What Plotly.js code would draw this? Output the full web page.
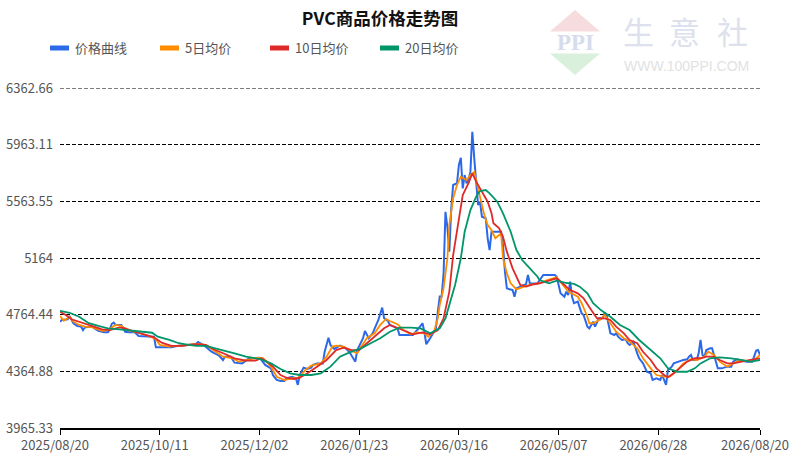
<!DOCTYPE html>
<html>
<head>
<meta charset="utf-8">
<script src="https://cdn.plot.ly/plotly-3.0.1.min.js"></script>
<style>
html,body{margin:0;padding:0;background:#fff;}
#chart{width:790px;height:458px;}
</style>
</head>
<body>
<div id="chart"></div>
<script>
// ---- data (day offsets from 2025-08-20) ----
const startDate = '2025-08-20';
const endDate = '2026-08-20';
const seriesNames = ['价格曲线', '5日均价', '10日均价', '20日均价'];
const seriesColors = ['#2b69e8', '#ff8c00', '#e02a2a', '#00966a'];

const xTickDates = ['2025-08-20','2025-10-11','2025-12-02','2026-01-23','2026-03-16','2026-05-07','2026-06-28','2026-08-20'];
const xTickLabels = ['2025/08/20','2025/10/11','2025/12/02','2026/01/23','2026/03/16','2026/05/07','2026/06/28','2026/08/20'];
const yTickVals = [3965.33, 4364.88, 4764.44, 5164, 5563.55, 5963.11, 6362.66];
const yTickLabels = ['3965.33','4364.88','4764.44','5164','5563.55','5963.11','6362.66'];

const priceDays = [0,1,4,5,7,9,11,12,13,17,18,20,23,25,26,27,28,29,32,34,36,39,41,45,49,50,53,58,61,67,71,72,73,76,79,83,85,86,89,91,95,98,99,102,104,105,107,110,111,113,115,117,118,121,123,124,125,127,129,131,132,134,137,138,140,141,143,146,149,151,154,155,157,158,159,161,163,164,166,168,169,171,172,174,176,177,184,187,189,190,191,193,196,197,198,199,200,201,202,203,204,205,207,208,209,210,211,212,213,214,215,216,217,218,219,220,222,223,224,225,230,231,232,233,234,236,237,238,240,243,244,245,249,251,252,258,259,260,261,263,264,265,266,267,268,270,271,272,273,275,276,278,279,281,283,284,285,286,287,289,290,291,293,295,296,297,299,301,302,304,306,308,309,311,313,314,315,316,317,319,320,322,324,325,327,328,329,330,332,333,334,335,336,337,339,340,341,342,343,345,348,350,351,353,355,358,361,362,363,364,365];
const priceVals = [4715,4727,4732,4755,4704,4685,4680,4656,4675,4680,4668,4651,4640,4640,4661,4699,4708,4692,4692,4644,4640,4640,4614,4609,4609,4534,4532,4534,4544,4551,4558,4572,4563,4539,4503,4475,4445,4468,4468,4426,4421,4450,4461,4457,4461,4445,4410,4386,4339,4304,4297,4297,4316,4327,4316,4269,4339,4391,4381,4391,4410,4421,4421,4503,4602,4551,4523,4546,4527,4499,4433,4515,4574,4598,4649,4598,4633,4668,4727,4814,4739,4720,4692,4680,4668,4621,4621,4668,4704,4644,4556,4598,4668,4785,4893,4893,5050,5490,5380,5209,5514,5679,5691,5820,5871,5655,5749,5691,5714,5773,6054,5867,5679,5538,5561,5455,5444,5303,5220,5349,5349,5255,5068,4950,4945,4938,4891,4950,4962,4980,5044,4985,4986,5021,5044,5044,5032,4974,4915,4891,4927,4903,4997,4891,4845,4856,4821,4774,4762,4680,4668,4715,4680,4739,4739,4778,4762,4704,4633,4621,4633,4609,4586,4591,4563,4551,4574,4492,4457,4421,4362,4351,4304,4316,4304,4339,4304,4269,4374,4398,4421,4433,4440,4445,4450,4468,4480,4445,4445,4492,4586,4480,4468,4515,4527,4527,4480,4445,4386,4386,4398,4398,4433,4450,4445,4433,4433,4468,4511,4515,4480];

const ma5Days = [0,2,5,7,10,13,17,22,25,29,32,35,39,45,50,52,57,64,71,76,81,85,90,93,98,103,106,110,113,117,121,124,128,131,136,139,142,144,148,151,155,157,160,164,167,170,172,176,179,183,186,190,192,195,197,198,200,202,203,205,207,209,212,214,216,217,219,221,223,225,227,230,231,233,235,238,242,245,250,254,259,262,265,270,272,275,276,278,282,284,287,290,294,297,301,304,308,311,315,318,322,325,329,332,336,338,341,344,348,351,355,360,363,365];
const ma5Vals = [4755,4722,4750,4715,4692,4680,4675,4651,4656,4692,4685,4656,4644,4621,4591,4551,4539,4546,4558,4551,4503,4468,4457,4433,4445,4461,4457,4398,4327,4304,4316,4316,4374,4405,4421,4468,4539,4546,4539,4515,4492,4539,4598,4633,4692,4734,4720,4697,4656,4626,4640,4633,4609,4644,4739,4833,4950,5162,5397,5585,5679,5737,5714,5749,5772,5714,5585,5479,5397,5361,5303,5338,5162,5056,4986,4943,4962,4974,4986,5009,5028,4974,4927,4891,4845,4750,4704,4704,4732,4762,4704,4644,4598,4574,4527,4457,4386,4339,4327,4327,4374,4421,4450,4445,4468,4503,4480,4433,4398,4421,4445,4433,4457,4480];

const ma10Days = [0,3,6,12,17,22,26,31,34,39,45,49,53,58,64,71,76,81,86,91,97,102,105,108,111,115,118,122,125,129,134,139,144,148,152,156,160,164,169,172,177,181,184,189,193,197,200,203,205,208,210,213,215,217,220,223,225,226,229,231,233,236,240,243,247,250,255,259,262,266,270,273,277,280,284,287,290,294,297,301,304,308,311,315,317,320,324,327,331,334,337,341,344,348,351,355,360,365];
const ma10Vals = [4785,4762,4732,4704,4680,4661,4656,4675,4668,4644,4621,4605,4567,4544,4544,4556,4551,4515,4487,4457,4440,4440,4457,4433,4398,4339,4320,4311,4320,4351,4398,4445,4515,4532,4515,4515,4563,4609,4668,4692,4668,4644,4626,4640,4626,4656,4739,4927,5185,5444,5608,5691,5761,5702,5632,5561,5479,5409,5373,5314,5209,5091,4974,4962,4979,4986,5004,5021,4986,4938,4915,4880,4797,4739,4739,4727,4680,4633,4586,4563,4503,4445,4386,4339,4323,4351,4398,4433,4457,4457,4468,4468,4445,4421,4421,4433,4445,4457];

const ma20Days = [0,5,10,15,20,25,31,36,43,48,51,57,62,67,71,76,81,86,91,97,102,104,110,115,120,125,131,136,141,146,151,157,162,167,172,177,183,188,193,198,201,203,206,209,211,214,217,219,222,224,228,231,235,238,241,245,249,250,255,259,263,268,271,275,278,282,287,292,297,302,308,313,317,322,327,331,334,339,344,350,355,360,365];
const ma20Vals = [4792,4778,4750,4704,4685,4668,4661,4656,4644,4637,4609,4586,4563,4551,4544,4544,4527,4511,4492,4468,4457,4452,4421,4381,4351,4339,4339,4351,4398,4468,4499,4527,4563,4598,4644,4673,4673,4668,4633,4668,4739,4833,4974,5162,5349,5502,5596,5636,5643,5620,5561,5479,5349,5220,5150,5091,5032,5009,4986,5004,4990,4981,4962,4915,4845,4797,4750,4692,4656,4586,4515,4457,4386,4362,4362,4386,4421,4457,4464,4457,4445,4433,4445];

// ---- build ----
function dayToDate(d) {
  const t = Date.UTC(2025, 7, 20) + d * 86400000;
  return new Date(t).toISOString().slice(0, 10);
}
const FONT = '"Noto Sans CJK SC", "Noto Sans", sans-serif';
const W = 790, H = 458;
const PL = 60, PR = 760, PT = 88, PB = 428;
const px = x => (x - PL) / (PR - PL);
const py = y => (PB - y) / (PB - PT);

const seriesDays = [priceDays, ma5Days, ma10Days, ma20Days];
const seriesVals = [priceVals, ma5Vals, ma10Vals, ma20Vals];
const seriesWidths = [2, 1.8, 1.8, 1.8];

const traces = seriesNames.map((name, i) => ({
  type: 'scatter',
  mode: 'lines',
  name: name,
  x: seriesDays[i].map(dayToDate),
  y: seriesVals[i],
  line: { color: seriesColors[i], width: seriesWidths[i], shape: 'linear' },
  showlegend: false,
  hoverinfo: 'x+y'
}));

const shapes = [];
const annotations = [];

// top dashed grid line (at the upper edge of the value range)
shapes.push({
  type: 'line', xref: 'paper', yref: 'y', layer: 'below',
  x0: 0, x1: 1, y0: yTickVals[yTickVals.length - 1], y1: yTickVals[yTickVals.length - 1],
  line: { color: '#000', width: 1, dash: '4px,2px' }
});

// custom legend (short thick bars like the original)
seriesNames.forEach((name, i) => {
  const x0 = 50 + 110 * i;
  shapes.push({
    type: 'rect', xref: 'paper', yref: 'paper',
    x0: px(x0), x1: px(x0 + 19), y0: py(50.5), y1: py(45.5),
    fillcolor: seriesColors[i], line: { width: 0 }
  });
  annotations.push({
    xref: 'paper', yref: 'paper', x: px(x0 + 23), y: py(48),
    xanchor: 'left', yanchor: 'middle', showarrow: false,
    text: name, font: { family: FONT, size: 13, color: '#555' }
  });
});

// watermark logo
shapes.push({
  type: 'path', xref: 'paper', yref: 'paper', layer: 'below',
  path: `M ${px(550)},${py(31.5)} L ${px(575)},${py(10)} L ${px(600)},${py(31.5)} Z`,
  fillcolor: '#f6dcdc', line: { width: 0 }
});
shapes.push({
  type: 'path', xref: 'paper', yref: 'paper', layer: 'below',
  path: `M ${px(550)},${py(53.5)} L ${px(600)},${py(53.5)} L ${px(575)},${py(75)} Z`,
  fillcolor: '#d9f0dc', line: { width: 0 }
});
annotations.push({
  xref: 'paper', yref: 'paper', x: px(575), y: py(42), xanchor: 'center', yanchor: 'middle',
  showarrow: false, text: '<b>PPI</b>',
  font: { family: '"Liberation Serif", serif', size: 23, color: '#d6dcec' }
});
const wmChars = ['生', '意', '社'];
const wmCenters = [638, 684, 732];
wmChars.forEach((c, i) => {
  annotations.push({
    xref: 'paper', yref: 'paper', x: px(wmCenters[i]), y: py(31), xanchor: 'center', yanchor: 'middle',
    showarrow: false, text: c,
    font: { family: FONT, size: 31, color: '#dce1ed' }
  });
});
annotations.push({
  xref: 'paper', yref: 'paper', x: px(686), y: py(66), xanchor: 'center', yanchor: 'middle',
  showarrow: false, text: 'WWW.100PPI.COM',
  font: { family: '"Liberation Sans", sans-serif', size: 14, color: '#e2e2e2' }
});

const layout = {
  width: W, height: H,
  margin: { l: PL, r: W - PR, t: PT, b: H - PB, pad: 0 },
  paper_bgcolor: '#fff', plot_bgcolor: '#fff',
  font: { family: FONT, color: '#555' },
  title: {
    text: '<b>PVC商品价格走势图</b>',
    font: { family: FONT, size: 17.5, color: '#111' },
    x: 380 / W, xanchor: 'center', xref: 'container',
    y: 1 - 19 / H, yanchor: 'middle', yref: 'container'
  },
  xaxis: {
    type: 'date',
    range: [startDate, endDate],
    tickmode: 'array', tickvals: xTickDates, ticktext: xTickLabels,
    ticks: 'outside', ticklen: 5, tickwidth: 1, tickcolor: '#000',
    showline: true, linecolor: '#000', linewidth: 1.5,
    showgrid: false, zeroline: false,
    tickfont: { family: FONT, size: 13, color: '#555' },
    ticklabeloverflow: 'allow',
    ticklabelshift: -5,
    fixedrange: true
  },
  yaxis: {
    range: [3965.33, 6362.72],
    tickmode: 'array', tickvals: yTickVals, ticktext: yTickLabels,
    ticks: '', showline: false, zeroline: false,
    showgrid: true, gridcolor: '#000', gridwidth: 1, griddash: '4px,2px',
    tickfont: { family: FONT, size: 13, color: '#555' },
    ticklabelstandoff: 6,
    fixedrange: true
  },
  shapes: shapes,
  annotations: annotations,
  showlegend: false
};

Plotly.newPlot('chart', traces, layout, { displayModeBar: false, staticPlot: true });
</script>
</body>
</html>
